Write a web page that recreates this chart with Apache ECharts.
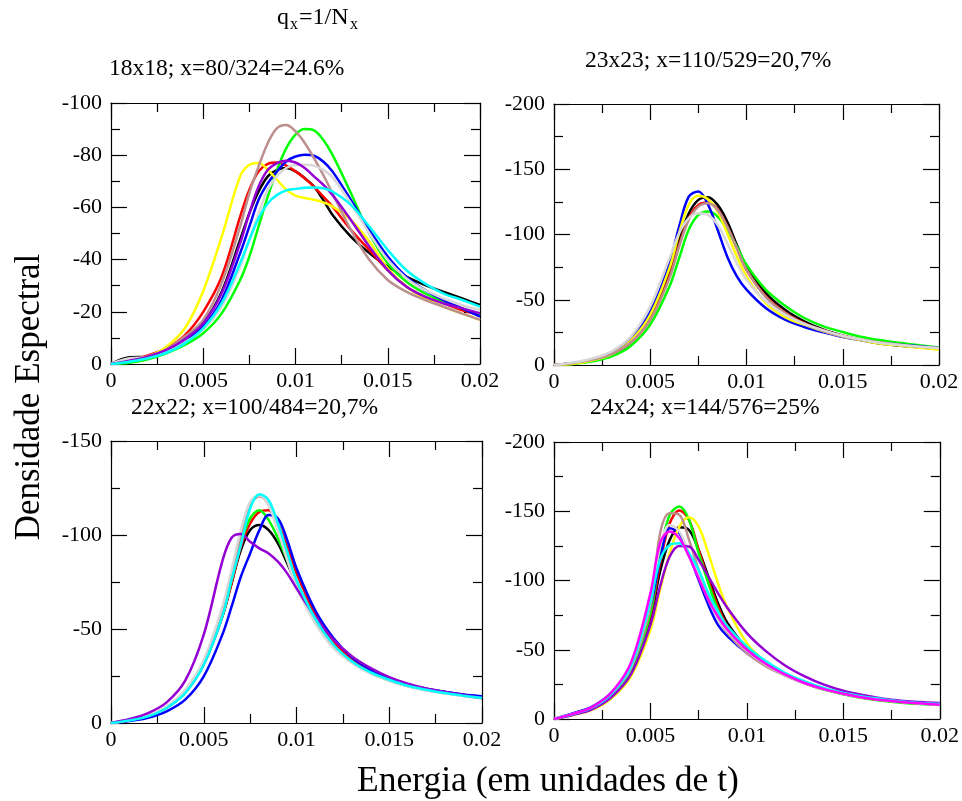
<!DOCTYPE html>
<html><head><meta charset="utf-8">
<script src="https://cdn.jsdelivr.net/npm/echarts@6/dist/echarts.min.js"></script>
<style>html,body{margin:0;padding:0;background:#fff}#c{width:962px;height:801px}</style>
</head><body><div id="c"></div>
<script>
const FONT = 'Liberation Serif';
const COLORS = {black:'#000000', red:'#ff0000', green:'#00ff00', blue:'#0000ff', yellow:'#ffff00',
  brown:'#bc8f8f', grey:'#d8d8d8', violet:'#9400d3', cyan:'#00ffff', magenta:'#ff00ff'};

// ---- shared tick labels
const xTickLabels = ['0','0.005','0.01','0.015','0.02'];

// ---- Panel 1: 18x18
const P1x = [0,0.001,0.002,0.003,0.004,0.005,0.006,0.007,0.0075,0.008,0.0085,0.009,0.0095,0.01,0.0105,0.011,0.0115,0.012,0.013,0.014,0.015,0.016,0.017,0.018,0.019,0.02];
const P1_black  = [0,-2.6,-2.8,-5.4,-9.5,-15.6,-27.7,-47.6,-57.8,-66.1,-71.9,-74.4,-75.1,-73.8,-71.2,-68,-62.9,-57.2,-48.8,-42.5,-37.3,-33.5,-30.3,-27.7,-25.2,-22.6];
const P1_red    = [0,-1,-3.3,-6,-11,-20,-33.5,-56.5,-66.8,-73.8,-76.7,-77.2,-76,-73.8,-71.2,-68,-64.2,-60.4,-51.4,-43.7,-36,-29.7,-25.8,-23.3,-20.7,-18.8];
const P1_green  = [0,-0.5,-1.8,-4.1,-7.3,-11.8,-19.4,-32.2,-41.2,-52.7,-64.2,-74.4,-82.7,-87.9,-90,-89.5,-85.9,-80.2,-65.5,-50.1,-38.6,-31.6,-27.1,-23.9,-21.4,-18.8];
const P1_blue   = [0,-1,-2.6,-5,-9,-14.3,-24.6,-42.5,-52.7,-62.9,-69.3,-73.8,-77.6,-79.5,-80.2,-79.8,-77.6,-73.8,-62.9,-51.4,-41.2,-33.5,-28.4,-24.6,-21.4,-18.2];
const P1_yellow = [0,-1.3,-2.8,-6.6,-13.7,-28,-48.8,-71.9,-76.3,-77,-74.4,-70.6,-66.8,-64.5,-63.6,-62.9,-61.9,-60.4,-55.2,-46.9,-36.7,-29.7,-25.2,-22,-19.4,-16.9];
const P1_brown  = [0,-1.3,-3,-5.6,-10.5,-16.9,-31,-52.7,-65.5,-75.7,-84.7,-90.4,-91.6,-89.1,-84.7,-78.9,-72.5,-65.5,-51.4,-39.9,-32.2,-27.7,-24.6,-22,-19.4,-16.9];
const P1_grey   = [0,-2.2,-2.5,-4.6,-8.3,-13.3,-22,-37.3,-47.6,-57.8,-66.8,-72.1,-75.1,-76.2,-76.3,-76,-74.4,-71.6,-61.6,-50.1,-39.9,-32.9,-28.4,-25.2,-22.6,-20.7];
const P1_violet = [0,-1.3,-2.8,-5.4,-9.5,-15.6,-27.1,-46.3,-57.8,-68,-74.4,-77,-77.9,-77.2,-75.1,-71.9,-68.7,-64.8,-55.2,-45,-36,-29.7,-25.8,-23.3,-21.4,-19.4];
const P1_cyan   = [0,-0.9,-2.2,-4.3,-7.9,-13.7,-23.3,-38.6,-47.6,-55.9,-61.6,-64.8,-66.5,-67.1,-67.5,-67.6,-67.3,-66.1,-61,-52.7,-43.7,-36,-30.9,-27.1,-24.6,-22];

// ---- Panel 2: 23x23
const P2x = [0,0.001,0.002,0.003,0.004,0.005,0.006,0.0065,0.007,0.0075,0.008,0.0085,0.009,0.0095,0.01,0.011,0.012,0.013,0.014,0.015,0.016,0.017,0.018,0.019,0.02];
const P2_black  = [0,-1.3,-3.6,-7.9,-18.1,-37.2,-71.7,-95.9,-116,-126.5,-128.6,-122.7,-110,-92,-75.5,-55.1,-42.3,-33.4,-27,-22.4,-18.9,-16.3,-14.8,-13.5,-12.5];
const P2_red    = [0,-1.3,-3.6,-7.9,-17.3,-34.7,-67.9,-92,-112.5,-122.7,-124.5,-119.4,-106,-89.5,-73,-52.6,-40.3,-32.1,-26.5,-22.4,-19.4,-17.3,-15.6,-14,-12.8];
const P2_green  = [0,-0.8,-2.8,-6.6,-14.8,-30.9,-60.2,-81.9,-103.6,-115,-117.6,-113.8,-103.6,-90.8,-76.8,-57.7,-45.4,-36,-29.6,-25.3,-21.4,-18.9,-16.8,-15.1,-13.5];
const P2_blue   = [0,-1.5,-4.1,-9.2,-20.7,-41,-78,-106,-129,-133,-123,-103.6,-83,-67.9,-57.7,-43.6,-34.7,-29.1,-25,-21.4,-18.9,-16.8,-15.6,-14.3,-13];
const P2_yellow = [0,-1,-3.6,-8.4,-18.9,-38.5,-74.2,-101,-122.7,-129.6,-127,-117.6,-101,-83.2,-67.9,-47.4,-36.7,-30.9,-25.8,-21.9,-18.9,-16.3,-14.8,-13.3,-11.7];
const P2_brown  = [0,-1.5,-4.1,-8.4,-17.6,-34.7,-66.6,-90.8,-111.2,-121.4,-124,-118.9,-106,-89.5,-73,-52,-39.8,-31.6,-26,-21.9,-19.4,-17.3,-15.6,-14,-12.8];
const P2_grey   = [0,-2,-5.1,-10.5,-21.9,-44.9,-81.9,-101,-112.5,-116.3,-115,-107.4,-93.4,-78,-65.3,-48.7,-38.5,-31.6,-26.5,-22.4,-19.4,-16.8,-15.3,-14,-13];

// ---- Panel 3: 22x22
const P3x = [0,0.001,0.002,0.003,0.004,0.005,0.006,0.0065,0.007,0.0075,0.008,0.0085,0.009,0.0095,0.01,0.011,0.012,0.013,0.014,0.015,0.016,0.017,0.018,0.019,0.02];
const P3_black  = [0,-1.4,-3.7,-8.3,-16.3,-31.3,-56.6,-74.3,-92,-102.6,-105.3,-102.6,-95.5,-84.9,-74.3,-56.6,-42.8,-33.6,-27.4,-23,-20.2,-18,-16.5,-15,-13.8];
const P3_red    = [0,-1.4,-3.7,-8.3,-16.3,-31.3,-56.6,-74.3,-93.8,-106.1,-112.3,-113.2,-106.1,-93.8,-79.6,-58.4,-43.3,-33.6,-27.4,-23,-20,-17.7,-16.1,-14.7,-13.4];
const P3_green  = [0,-1.4,-3.7,-8.3,-16.5,-31.8,-57.5,-76.1,-95.5,-108.8,-113.2,-107.9,-98.2,-86.7,-74.3,-54.8,-41,-32.4,-26.5,-22.6,-19.6,-17.5,-15.9,-14.5,-13.3];
const P3_blue   = [0,-1.1,-2.8,-6.2,-12.4,-24.8,-46.9,-61.9,-77.8,-90.2,-102.6,-110.6,-108.8,-97.3,-82.3,-60.1,-45.1,-34.8,-28.3,-23.7,-20.5,-18.2,-16.6,-15.2,-14.2];
const P3_brown  = [0,-1.6,-3.9,-8.5,-16.8,-32.7,-59.3,-78.7,-99.1,-115.9,-120.6,-115.9,-102.6,-87.6,-73.4,-54,-40.7,-32.2,-26.5,-22.6,-19.6,-17.5,-15.9,-14.5,-13.1];
const P3_grey   = [0,-1.6,-4.1,-8.8,-17.7,-33.6,-61.9,-81.4,-102.6,-117.6,-121.2,-115.9,-102.6,-86.7,-72.5,-53.1,-39.8,-31.8,-26.2,-22.5,-19.5,-17.3,-15.7,-14.3,-13.1];
const P3_violet = [0,-2.1,-5.3,-11,-22.5,-47,-86,-98.5,-100.5,-96.4,-92.9,-90.2,-85.8,-79.6,-71.6,-56.6,-44.2,-35.4,-29.2,-24.4,-20.9,-18.4,-16.5,-14.9,-13.3];
const P3_cyan   = [0,-1.4,-3.5,-8,-15.9,-31,-56.6,-76.1,-94.6,-114.1,-121.7,-118.5,-106.1,-91.1,-76.1,-55.7,-41.6,-32.7,-26.9,-23,-19.8,-17.7,-15.9,-14.5,-13.3];

// ---- Panel 4: 24x24
const P4x = [0,0.001,0.002,0.003,0.004,0.005,0.0055,0.006,0.0065,0.007,0.0075,0.008,0.0085,0.009,0.01,0.011,0.012,0.013,0.014,0.015,0.016,0.017,0.018,0.019,0.02];
const P4_black   = [0,-3.3,-7.8,-17.5,-35,-72.8,-106.5,-129.3,-138.5,-136.5,-122.1,-102.9,-83.7,-69.2,-51.2,-39.7,-31.7,-26,-21.6,-18.3,-15.6,-13.7,-12.3,-11.3,-10.6];
const P4_red     = [0,-3.3,-7.8,-17.5,-35.5,-75.2,-112.5,-141.3,-150.5,-143.8,-122.1,-100.5,-81.3,-66.8,-50.5,-39.7,-32,-26,-21.6,-18.3,-15.6,-13.7,-12.3,-11.3,-10.6];
const P4_green   = [0,-3.3,-7.8,-17.5,-35.5,-76.4,-119.7,-147.4,-153.4,-143.8,-119.7,-98.1,-78.8,-65.6,-50,-39.2,-31.7,-26,-21.2,-17.8,-15.1,-13.2,-11.8,-10.8,-10.1];
const P4_blue    = [0,-4.2,-9.2,-19.5,-39,-81.3,-114.9,-137.7,-134.1,-118.5,-100.5,-82.5,-68,-59.6,-47.6,-38.5,-31.7,-26,-21.6,-18.3,-15.9,-13.9,-12.5,-11.5,-10.8];
const P4_yellow  = [0,-2.9,-6.8,-15.2,-31,-64.4,-93.3,-119.7,-138.9,-145.7,-138.9,-119.7,-98.1,-80,-54.8,-40.9,-32.2,-26,-21.6,-18.3,-15.6,-13.7,-12.3,-11.3,-10.6];
const P4_brown   = [0,-3.5,-8.1,-18,-37,-81.3,-134.1,-148.6,-147.4,-129.3,-107.7,-88.5,-72.8,-62,-47.6,-38,-31.3,-25.5,-21.2,-18,-15.6,-13.7,-12.3,-11.3,-10.3];
const P4_grey    = [0,-3.7,-8.6,-18.8,-38,-84.9,-124.5,-140.1,-135.3,-119.7,-102.9,-86.1,-72.8,-63.2,-49.5,-39.2,-31.7,-26,-21.6,-18.3,-15.9,-13.9,-12.5,-11.3,-10.3];
const P4_violet  = [0,-3.0,-7.2,-16,-32.5,-68,-95.7,-117.3,-125,-124.5,-114.9,-102.9,-90.9,-80,-62,-48.8,-38.5,-30.8,-24.8,-20.4,-17.3,-14.9,-13.2,-12.3,-11.5];
const P4_cyan    = [0,-3.5,-8.3,-18.5,-38.5,-84.9,-114.9,-125.7,-126.9,-119.7,-107.7,-90.9,-77.6,-66.8,-52.4,-41.6,-33.2,-27.2,-22.4,-18.8,-16.3,-14.4,-12.7,-11.5,-10.8];
const P4_magenta = [0,-3.7,-8.8,-19.5,-41,-90.9,-126.9,-135.3,-130.5,-117.3,-101.7,-86.1,-74,-64.4,-50,-39.7,-32,-26,-21.6,-18.3,-15.6,-13.7,-12.3,-11.3,-10.3];

// ---- texts
const mainTitleParts = ['q','x','=1/N','x'];
const panelTitles = ['18x18; x=80/324=24.6%','23x23; x=110/529=20,7%','22x22; x=100/484=20,7%','24x24; x=144/576=25%'];
const yTitle = 'Densidade Espectral';
const xTitle = 'Energia (em unidades de t)';

const panels = [
  {x:P1x, ymin:-100, yint:20, grid:{left:111, top:103, width:369, height:261},
   s:[['black',P1_black],['red',P1_red],['green',P1_green],['blue',P1_blue],['yellow',P1_yellow],['brown',P1_brown],['grey',P1_grey],['violet',P1_violet],['cyan',P1_cyan]]},
  {x:P2x, ymin:-200, yint:50, grid:{left:554, top:104, width:385, height:261},
   s:[['black',P2_black],['red',P2_red],['green',P2_green],['blue',P2_blue],['yellow',P2_yellow],['brown',P2_brown],['grey',P2_grey]]},
  {x:P3x, ymin:-150, yint:50, grid:{left:111, top:441, width:371, height:282},
   s:[['black',P3_black],['red',P3_red],['green',P3_green],['blue',P3_blue],['brown',P3_brown],['grey',P3_grey],['violet',P3_violet],['cyan',P3_cyan]]},
  {x:P4x, ymin:-200, yint:50, grid:{left:554, top:442, width:386, height:277},
   s:[['black',P4_black],['red',P4_red],['green',P4_green],['blue',P4_blue],['yellow',P4_yellow],['brown',P4_brown],['grey',P4_grey],['violet',P4_violet],['cyan',P4_cyan],['magenta',P4_magenta]]}
];

const lbl = {fontFamily:FONT, fontSize:22, color:'#000'};
const grids=[], xAxes=[], yAxes=[], series=[];
panels.forEach((p,i)=>{
  grids.push(Object.assign({containLabel:false}, p.grid));
  const common = {gridIndex:i, type:'value', splitLine:{show:false},
    axisLine:{show:true, onZero:false, lineStyle:{color:'#000', width:1.2}},
    axisTick:{show:true, inside:true, length:16, lineStyle:{color:'#000', width:1.2}},
    minorTick:{show:true, splitNumber:2, length:9, lineStyle:{color:'#000', width:1.2}}};
  const xa = Object.assign({}, common, {min:0, max:0.02, interval:0.005});
  xAxes.push(Object.assign({}, xa, {position:'bottom',
    axisLabel:Object.assign({margin:6, formatter:(v)=>xTickLabels[Math.round(v/0.005)]}, lbl)}));
  xAxes.push(Object.assign({}, xa, {position:'top', axisLabel:{show:false}}));
  const ya = Object.assign({}, common, {min:p.ymin, max:0, interval:p.yint, inverse:true});
  yAxes.push(Object.assign({}, ya, {position:'left', axisLabel:Object.assign({margin:9}, lbl)}));
  yAxes.push(Object.assign({}, ya, {position:'right', axisLabel:{show:false}}));
  p.s.forEach(([c,ys])=>{
    series.push({type:'line', xAxisIndex:2*i, yAxisIndex:2*i, showSymbol:false, smooth:0.35,
      animation:false, silent:true, clip:true,
      lineStyle:{color:COLORS[c], width:2.5}, itemStyle:{color:COLORS[c]},
      data: p.x.map((xv,k)=>[xv, ys[k]])});
  });
});

const tf = (size)=>({fontFamily:FONT, fontSize:size, fill:'#000'});
const graphic = [
  {type:'text', left:277, top:6, style:Object.assign({text:mainTitleParts[0]}, tf(24))},
  {type:'text', left:290, top:17, style:Object.assign({text:mainTitleParts[1]}, tf(16))},
  {type:'text', left:299, top:6, style:Object.assign({text:mainTitleParts[2]}, tf(24))},
  {type:'text', left:350, top:17, style:Object.assign({text:mainTitleParts[3]}, tf(16))},
  {type:'text', left:109, top:57, style:Object.assign({text:panelTitles[0]}, tf(23.5))},
  {type:'text', left:585, top:49, style:Object.assign({text:panelTitles[1]}, tf(23.5))},
  {type:'text', left:131, top:396, style:Object.assign({text:panelTitles[2]}, tf(23.5))},
  {type:'text', left:590, top:396, style:Object.assign({text:panelTitles[3]}, tf(23.5))},
  {type:'text', x:30, y:397, rotation:Math.PI/2,
    style:Object.assign({text:yTitle, align:'center', verticalAlign:'middle'}, tf(35))},
  {type:'text', x:548, y:782,
    style:Object.assign({text:xTitle, align:'center', verticalAlign:'middle'}, tf(35.5))}
];

const chart = echarts.init(document.getElementById('c'), null, {renderer:'canvas'});
chart.setOption({animation:false, backgroundColor:'#fff', grid:grids, xAxis:xAxes, yAxis:yAxes, series, graphic});
</script></body></html>
